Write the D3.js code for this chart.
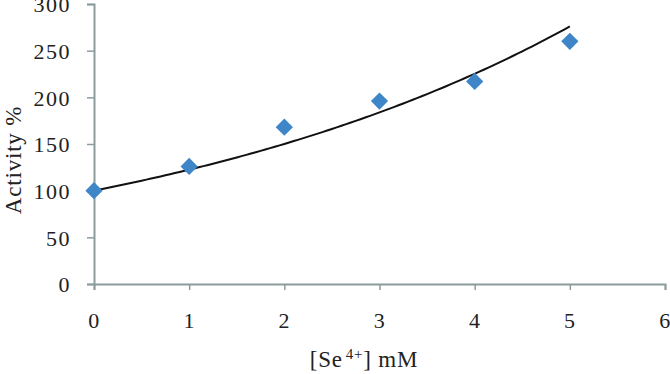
<!DOCTYPE html>
<html>
<head>
<meta charset="utf-8">
<script src="https://cdn.jsdelivr.net/npm/d3@7"></script>
<style>
  body { margin: 0; background: #fff; }
  text { font-family: "Liberation Serif", "DejaVu Serif", serif; fill: #222; }
</style>
</head>
<body>
<script>
var concentrations = [0, 1, 2, 3, 4, 5];
var activity = [100, 126, 168, 196, 217, 260];
var xTicks = [0, 1, 2, 3, 4, 5, 6];
var yTicks = [0, 50, 100, 150, 200, 250, 300];
var trendIntercept = 100;

var width = 670, height = 374;
var margin = {left: 94, right: 5, top: 4, bottom: 90};
var fontSize = '22px';

var svg = d3.select('body').append('svg')
  .attr('width', width)
  .attr('height', height);

var x = d3.scaleLinear().domain([0, 6]).range([margin.left, width - margin.right]);
var y = d3.scaleLinear().domain([0, 300]).range([height - margin.bottom, margin.top]);

// exponential trendline, intercept fixed (like the spreadsheet option)
var sxy = 0, sxx = 0;
concentrations.forEach(function(c, i) {
  sxy += c * (Math.log(activity[i]) - Math.log(trendIntercept));
  sxx += c * c;
});
var rate = sxy / sxx;
var trend = d3.range(0, 5.001, 0.05).map(function(c) {
  return [c, trendIntercept * Math.exp(rate * c)];
});

var axisColor = '#8c9c9c';

var yAxis = svg.append('g')
  .attr('transform', 'translate(' + margin.left + ',0)')
  .call(d3.axisLeft(y).tickValues(yTicks).tickFormat(d3.format('d')).tickSize(7).tickPadding(16));
var xAxis = svg.append('g')
  .attr('transform', 'translate(0,' + y(0) + ')')
  .call(d3.axisBottom(x).tickValues(xTicks).tickFormat(d3.format('d')).tickSize(6).tickPadding(20));

[xAxis, yAxis].forEach(function(g) {
  g.select('.domain').attr('stroke', axisColor).attr('stroke-width', 2);
  g.selectAll('.tick line').attr('stroke', axisColor).attr('stroke-width', 1.5);
  g.selectAll('.tick text')
    .style('font-size', fontSize)
    .style('font-family', '"Liberation Serif", serif')
    .style('letter-spacing', '1.5px')
    .attr('fill', '#222');
});
yAxis.selectAll('.tick text').attr('dy', '0.35em');
xAxis.selectAll('.tick text').attr('dy', '0.8em');

var line = d3.line()
  .x(function(d) { return x(d[0]); })
  .y(function(d) { return y(d[1]); });

svg.append('path')
  .datum(trend)
  .attr('d', line)
  .attr('fill', 'none')
  .attr('stroke', '#111')
  .attr('stroke-width', 2);

svg.selectAll('.pt')
  .data(concentrations)
  .enter().append('path')
  .attr('class', 'pt')
  .attr('d', d3.symbol().type(d3.symbolDiamond2).size(190))
  .attr('transform', function(d, i) { return 'translate(' + x(d) + ',' + y(activity[i]) + ')'; })
  .attr('fill', '#3f86c8');

svg.append('text')
  .attr('transform', 'translate(21,160) rotate(-90)')
  .attr('text-anchor', 'middle')
  .style('font-size', '23px')
  .style('letter-spacing', '0.8px')
  .text('Activity %');

var xt = svg.append('text')
  .attr('x', 364)
  .attr('y', 367)
  .attr('text-anchor', 'middle')
  .style('font-size', '23px')
  .style('letter-spacing', '0.8px');
xt.append('tspan').text('[Se');
xt.append('tspan').attr('dy', -8).attr('dx', 3).style('font-size', '15px').text('4+');
xt.append('tspan').attr('dy', 8).text('] mM');
</script>
</body>
</html>
